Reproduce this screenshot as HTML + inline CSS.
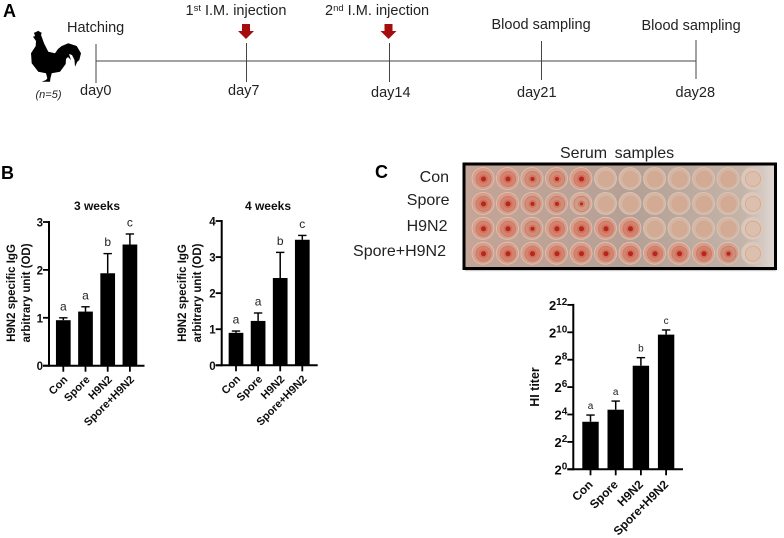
<!DOCTYPE html>
<html lang="en">
<head>
<meta charset="utf-8">
<title>H9N2 immunization figure</title>
<style>
html,body{margin:0;padding:0;background:#fff;width:784px;height:538px;overflow:hidden}
svg{display:block;font-family:"Liberation Sans",Arial,sans-serif}
</style>
</head>
<body>
<svg id="fig" xmlns="http://www.w3.org/2000/svg" width="784" height="538" viewBox="0 0 784 538">
<defs>
<filter id="soft" x="-2%" y="-2%" width="104%" height="104%"><feGaussianBlur stdDeviation="0.35"/></filter>
<filter id="softer" x="-5%" y="-5%" width="110%" height="110%"><feGaussianBlur stdDeviation="0.7"/></filter>
<linearGradient id="plateBg" x1="0" y1="0" x2="1" y2="0">
<stop offset="0" stop-color="#c4a597"/><stop offset="0.55" stop-color="#b5a095"/><stop offset="0.9" stop-color="#c4b4a9"/><stop offset="1" stop-color="#e0d9d4"/>
</linearGradient>
</defs>
<g id="root" filter="url(#soft)">
<g fill="#222" font-size="14.5">
<text x="3" y="17" font-size="18" font-weight="bold" fill="#000">A</text>
<path fill="#000" d="M34 32.7 L36 32 L38.3 30.7 L40 32 L41.7 32.7 L41 35 L41.7 36.7 L44 43.3 L48.3 51.7 L55 53.3 L58 49 L61.7 46 L68.3 43.3 L76.7 46 L81 53.3 L79.3 60 L77.3 61.7 L75 66.7 L74.5 60 L72 55 L69 54 L71 60 L68 57 L66 59 L65.7 64 L60 71.7 L51.7 73.3 L50.5 78 L50 81.7 L41.7 81.7 L46 80 L47.3 78.3 L46 73.3 L38.3 71.7 L31.7 63.3 L31 53.3 L35.7 46 L36 41 L33 36.7 L35 36 Z"/>
<text x="35.5" y="98" font-size="11" font-style="italic">(n=5)</text>
<line x1="96" y1="61" x2="696" y2="61" stroke="#444" stroke-width="1.1"/>
<line x1="96" y1="44" x2="96" y2="83" stroke="#444" stroke-width="1"/>
<line x1="246.5" y1="43" x2="246.5" y2="82" stroke="#444" stroke-width="1"/>
<line x1="389.5" y1="43" x2="389.5" y2="82" stroke="#444" stroke-width="1"/>
<line x1="541.5" y1="41" x2="541.5" y2="80" stroke="#444" stroke-width="1"/>
<line x1="696" y1="40" x2="696" y2="79" stroke="#444" stroke-width="1"/>
<text x="80" y="95">day0</text>
<text x="228" y="95">day7</text>
<text x="371" y="97">day14</text>
<text x="517" y="97">day21</text>
<text x="675.5" y="97">day28</text>
<text x="67" y="32">Hatching</text>
<text x="185.5" y="15">1<tspan font-size="9.5" dy="-4">st</tspan><tspan dy="4"> I.M. injection</tspan></text>
<text x="325" y="15">2<tspan font-size="9.5" dy="-4">nd</tspan><tspan dy="4"> I.M. injection</tspan></text>
<text x="491.5" y="29">Blood sampling</text>
<text x="641.5" y="30">Blood sampling</text>
<path d="M242 24 H250 V31 H254 L246 39 L238 31 H242 Z" fill="#a50f0f"/>
<path d="M384.5 24 H392.5 V31 H396.5 L388.5 39 L380.5 31 H384.5 Z" fill="#a50f0f"/>
</g>
<text x="1" y="179" font-size="18" font-weight="bold">B</text>
<text x="375" y="178" font-size="18" font-weight="bold">C</text>
<g fill="#222" font-size="16" text-anchor="end">
<text x="449" y="182">Con</text>
<text x="449.5" y="205">Spore</text>
<text x="447.5" y="231">H9N2</text>
<text x="446" y="256">Spore+H9N2</text>
</g>
<text x="560" y="158" font-size="16" fill="#222" word-spacing="3">Serum samples</text>
<rect x="465" y="164.5" width="311" height="106" fill="#999" filter="url(#softer)"/>
<rect x="464" y="164" width="311.5" height="104.5" fill="url(#plateBg)" stroke="#000" stroke-width="3"/>
<g id="wells"></g>
<g id="charts"></g>
</g>
</svg>
<script>
var categories = ["Con", "Spore", "H9N2", "Spore+H9N2"];
var week3Values = [0.95, 1.13, 1.93, 2.53];
var week3ErrorTops = [1.0, 1.23, 2.34, 2.75];
var week3Letters = ["a", "a", "b", "c"];
var week3Ticks = [0, 1, 2, 3];
var week4Values = [0.9, 1.23, 2.42, 3.48];
var week4ErrorTops = [0.95, 1.45, 3.13, 3.6];
var week4Letters = ["a", "a", "b", "c"];
var week4Ticks = [0, 1, 2, 3, 4];
var hiExponents = [3.47, 4.35, 7.56, 9.83];
var hiErrorTops = [3.96, 4.98, 8.15, 10.17];
var hiLetters = ["a", "a", "b", "c"];
var hiTicks = [0, 2, 4, 6, 8, 10, 12];
var pelletRows = [
  [3, 3, 2, 2, 3, 0, 0, 0, 0, 0, 0, 0],
  [3, 3, 2, 2, 1, 0, 0, 0, 0, 0, 0, 0],
  [3, 3, 2, 3, 3, 3, 3, 0, 0, 0, 0, 0],
  [3, 3, 3, 3, 3, 3, 3, 3, 3, 3, 2, 0]
];

var NS = "http://www.w3.org/2000/svg";
function mk(parent, tag, attrs, txt) {
  var e = document.createElementNS(NS, tag);
  for (var k in attrs) e.setAttribute(k, attrs[k]);
  if (txt !== undefined) e.textContent = txt;
  parent.appendChild(e);
  return e;
}

function drawPlate() {
  var host = document.getElementById("wells");
  var wellFill = ["#d3ab95", "#d19c86", "#d08d78", "#d3846f"];
  var ringFill = ["#d5b6a3", "#d6ad9a", "#d6a18e", "#dc9c88"];
  var pelletR = [0, 1.5, 2, 2.5];
  pelletRows.forEach(function (row, r) {
    var rowY = 178.5 + r * 24.9;
    row.forEach(function (strength, c) {
      var cx = 483 + c * 24.5;
      var fade = c === 11 ? "#dcc8ba" : ringFill[strength];
      var outer = mk(host, "circle", { cx: cx, cy: rowY, r: 11, fill: fade, stroke: "#dcc6b9", "stroke-width": 0.8 });
      
      
      var inner = mk(host, "circle", { cx: cx + 0.5, cy: rowY + 0.5, r: 7.6, fill: c === 11 ? "#dcc0ad" : wellFill[strength], stroke: strength > 0 ? "#c47e6a" : "#cfa893", "stroke-width": 0.8 });
      
      
      if (strength > 0) {
        var halo = mk(host, "circle", { cx: cx + 0.5, cy: rowY + 0.5, r: pelletR[strength] + 2, fill: "#d2604c", opacity: 0.55 });
        
        
        var pellet = mk(host, "circle", { cx: cx + 0.5, cy: rowY + 0.5, r: pelletR[strength], fill: "#b5261c" });
        
        
      }
    });
  });
}

function drawChart(o) {
  var host = mk(document.getElementById("charts"), "g", {});
  
  
  function yScale(v) { return o.y0 - (v - o.min) / (o.max - o.min) * (o.y0 - o.yTop); }
  function xScale(i) { return o.axisX + o.first + i * o.step; }

  o.values.forEach(function (v, i) {
    var cx = xScale(i), top = yScale(v), err = yScale(o.errors[i]);
    var bar = mk(host, "rect", { x: cx - o.barW / 2, y: top, width: o.barW, height: o.y0 - top, fill: "#000" });
    
    
    var stem = mk(host, "line", { x1: cx, x2: cx, y1: top, y2: err, stroke: "#000", "stroke-width": 1.5 });
    
    
    var cap = mk(host, "line", { x1: cx - 4.2, x2: cx + 4.2, y1: err, y2: err, stroke: "#000", "stroke-width": 1.4 });
    
    
    var sig = mk(host, "text", { x: cx, y: err - o.letterGap, "text-anchor": "middle", "font-size": o.letterSize, fill: "#222" }, o.letters[i]);
    
    
    var tick = mk(host, "line", { x1: cx, x2: cx, y1: o.y0, y2: o.y0 + 6, stroke: "#000", "stroke-width": 1.8 });
    
    
    var lx = cx + o.labelDx, ly = o.y0 + o.labelDy;
    var lab = mk(host, "text", { x: lx, y: ly, "text-anchor": "end", "font-size": o.catSize, "font-weight": "bold", fill: "#111", transform: "rotate(-45 " + lx + " " + ly + ")" }, categories[i]);
    
    
  });

  var base = mk(host, "line", { x1: o.axisX - 6, x2: o.axisEnd, y1: o.y0, y2: o.y0, stroke: "#000", "stroke-width": 2 });
  
  
  var yAxis = mk(host, "line", { x1: o.axisX, x2: o.axisX, y1: o.yTop - 1, y2: o.y0 + 1, stroke: "#000", "stroke-width": 2 });
  
  

  o.ticks.forEach(function (t) {
    var y = yScale(t);
    var tk = mk(host, "line", { x1: o.axisX - 6, x2: o.axisX, y1: y, y2: y, stroke: "#000", "stroke-width": 1.8 });
    
    
    var lb = mk(host, "text", { x: o.axisX - 6, y: y + (o.power ? 5 : 4.5), "text-anchor": "end", "font-size": o.power ? 13 : 11.5, "font-weight": "bold", fill: "#111" });
    
    
    if (o.power) {
      var b = mk(lb, "tspan", {}, "2");
      var s = mk(lb, "tspan", { dy: -5, "font-size": 10 }, String(t));
      
      
      
      
    } else {
      lb.textContent = String(t);
    }
  });

  if (o.title) {
    var ti = mk(host, "text", { x: o.titleX, y: 210, "text-anchor": "middle", "font-size": 12, "font-weight": "bold", fill: "#111" }, o.title);
    
    
  }
  o.yTitle.forEach(function (line, i) {
    var tx = o.yTitleX + i * 15, ty = o.yTitleY;
    var yt = mk(host, "text", { x: tx, y: ty, "text-anchor": "middle", "font-size": o.yTitleSize, "font-weight": "bold", fill: "#111", transform: "rotate(-90 " + tx + " " + ty + ")" }, line);
    
    
  });
}

drawPlate();

drawChart({ name: "chart-3-weeks", values: week3Values, errors: week3ErrorTops, letters: week3Letters, ticks: week3Ticks,
  min: 0, max: 3, axisX: 49, axisEnd: 144.5, y0: 365.7, yTop: 222, first: 14.3, step: 22.2, barW: 14.7,
  letterGap: 7.5, letterSize: 12, catSize: 11, labelDx: 5, labelDy: 14.5, title: "3 weeks", titleX: 97,
  yTitle: ["H9N2 specific IgG", "arbitrary unit (OD)"], yTitleX: 15, yTitleY: 293, yTitleSize: 11.5 });

drawChart({ name: "chart-4-weeks", values: week4Values, errors: week4ErrorTops, letters: week4Letters, ticks: week4Ticks,
  min: 0, max: 4, axisX: 221.7, axisEnd: 317.7, y0: 365.3, yTop: 221, first: 14.3, step: 22.1, barW: 14.7,
  letterGap: 7.5, letterSize: 12, catSize: 11, labelDx: 5, labelDy: 14.5, title: "4 weeks", titleX: 268,
  yTitle: ["H9N2 specific IgG", "arbitrary unit (OD)"], yTitleX: 186, yTitleY: 293, yTitleSize: 11.5 });

drawChart({ name: "chart-hi-titer", values: hiExponents, errors: hiErrorTops, letters: hiLetters, ticks: hiTicks, power: true,
  min: 0, max: 12, axisX: 573.3, axisEnd: 683, y0: 469.3, yTop: 304.9, first: 17.2, step: 25.2, barW: 16.4,
  letterGap: 6, letterSize: 10, catSize: 12, labelDx: 3, labelDy: 16,
  yTitle: ["HI titer"], yTitleX: 539, yTitleY: 387, yTitleSize: 12.5 });
</script>
</body>
</html>
